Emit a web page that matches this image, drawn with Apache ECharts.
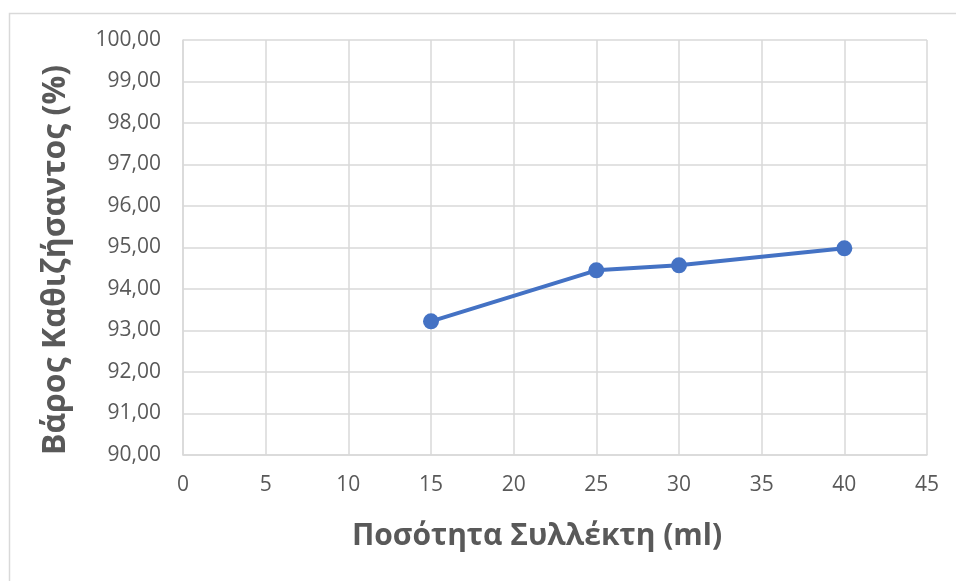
<!DOCTYPE html>
<html>
<head>
<meta charset="utf-8">
<script src="https://cdn.jsdelivr.net/npm/echarts@6/dist/echarts.min.js"></script>
<style>
  html, body { margin: 0; padding: 0; background: #fff; }
  #chart { width: 956px; height: 581px; }
</style>
</head>
<body>
<div id="chart"></div>
<script>
// Collector volume (ml) vs settled weight (%)
const collectorMl = [15, 25, 30, 40];
const settledPct = [93.22, 94.45, 94.57, 94.98];

const xTitle = 'Ποσότητα Συλλέκτη (ml)';
const yTitle = 'Βάρος Καθιζήσαντος (%)';

const textColor = '#595959';
const gridColor = '#d9d9d9';
const fontFamily = '"Open Sans", "Noto Sans", sans-serif';

const chart = echarts.init(document.getElementById('chart'), null, { renderer: 'canvas' });

chart.setOption({
  animation: false,
  backgroundColor: '#ffffff',
  graphic: [
    {
      type: 'rect',
      left: 7, top: 11,
      shape: { width: 1000, height: 620 },
      style: { fill: 'none', stroke: gridColor, lineWidth: 1.5 },
      silent: true
    },
    {
      type: 'text',
      x: 56, y: 260,
      rotation: Math.PI / 2,
      style: {
        text: yTitle, fill: textColor, font: 'bold 32px ' + fontFamily,
        align: 'center', verticalAlign: 'middle'
      },
      silent: true
    },
    {
      type: 'text',
      x: 537, y: 536,
      style: {
        text: xTitle, fill: textColor, font: 'bold 30px ' + fontFamily,
        align: 'center', verticalAlign: 'middle'
      },
      silent: true
    }
  ],
  grid: { left: 183, right: 29, top: 40, bottom: 126 },
  xAxis: {
    type: 'value',
    min: 0, max: 45, interval: 5,
    axisLine: { show: true, lineStyle: { color: gridColor, width: 1.5 } },
    axisTick: { show: false },
    axisLabel: { color: textColor, fontSize: 21, fontFamily, margin: 20 },
    splitLine: { show: true, lineStyle: { color: gridColor, width: 1.5 } }
  },
  yAxis: {
    type: 'value',
    min: 90, max: 100, interval: 1,
    axisLine: { show: true, lineStyle: { color: gridColor, width: 1.5 } },
    axisTick: { show: false },
    axisLabel: {
      color: textColor, fontSize: 21, fontFamily, margin: 22,
      formatter: v => v.toFixed(2).replace('.', ',')
    },
    splitLine: { show: true, lineStyle: { color: gridColor, width: 1.5 } }
  },
  series: [{
    type: 'line',
    data: collectorMl.map((x, i) => [x, settledPct[i]]),
    symbol: 'circle',
    symbolSize: 16,
    lineStyle: { color: '#4472C4', width: 4 },
    itemStyle: { color: '#4472C4' }
  }]
});
</script>
</body>
</html>
